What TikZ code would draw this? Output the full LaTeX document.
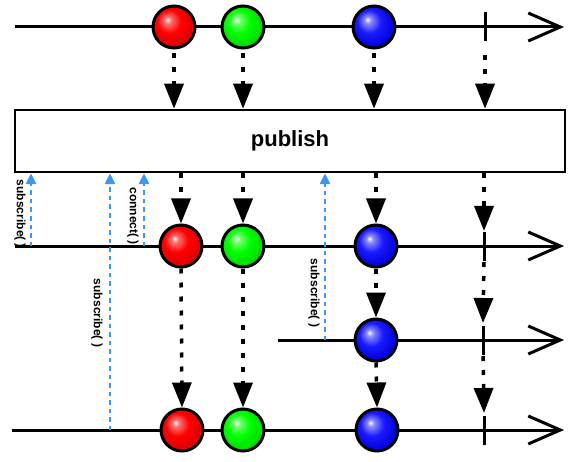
\documentclass[tikz,border=0pt]{standalone}
\usepackage{fontspec}
\setmainfont{Liberation Sans}
\usetikzlibrary{arrows.meta}
\definecolor{subblue}{RGB}{60,150,245}
\pgfdeclareradialshading{mred}{\pgfpoint{-8bp}{9bp}}{color(0bp)=(white); color(4bp)=(red!55!white); color(14bp)=(red); color(28bp)=(red!85!black); color(50bp)=(red!60!black)}
\pgfdeclareradialshading{mgreen}{\pgfpoint{-8bp}{9bp}}{color(0bp)=(white); color(4bp)=(green!55!white); color(14bp)=(green); color(28bp)=(green!85!black); color(50bp)=(green!60!black)}
\pgfdeclareradialshading{mblue}{\pgfpoint{-8bp}{9bp}}{color(0bp)=(white); color(4bp)=(blue!45!white); color(14bp)=(blue!90!white); color(28bp)=(blue!85!black); color(50bp)=(blue!60!black)}
\tikzset{
  tl/.style={line width=3pt, -{Straight Barb[length=32pt,width=28pt,line width=3pt]}},
  marble/.style={circle, draw, line width=3pt, minimum size=42pt, inner sep=0pt},
  dotarrow/.style={line width=3.5pt, dash pattern=on 5pt off 9pt, -{Triangle[length=25pt,width=19pt]}},
  subarrow/.style={draw=subblue, line width=2.8pt, dash pattern=on 4.5pt off 4pt, -{Triangle[length=11pt,width=10pt,fill=subblue]}},
  lab/.style={font=\bfseries\fontsize{12}{14}\selectfont, rotate=-90, inner sep=0pt},
  tickline/.style={line width=3pt},
}
\begin{document}
\begin{tikzpicture}[x=1pt,y=-1pt]
\useasboundingbox (0,0) rectangle (580,462);
% publish box
\node[draw, line width=2.5pt, fill=white, minimum width=550pt, minimum height=62pt, inner sep=0pt,
      font=\bfseries\fontsize{22}{26}\selectfont] (box) at (290,141) {publish};
% timeline starts/ends
\coordinate (a1) at (15,27);  \coordinate (e1) at (564,27);
\coordinate (a2) at (15,246); \coordinate (e2) at (564,246);
\coordinate (a3) at (278,340); \coordinate (e3) at (564,340);
\coordinate (a4) at (12,430); \coordinate (e4) at (564,430);
\draw[tl] (a1) -- (e1);
\draw[tl] (a2) -- (e2);
\draw[tl] (a3) -- (e3);
\draw[tl] (a4) -- (e4);
% ticks
\coordinate (t1) at (485,27);
\coordinate (t2) at (484,246);
\coordinate (t3) at (483,340);
\coordinate (t4) at (484,430);
\foreach \t in {t1,t2,t3,t4}
  \draw[tickline] ([yshift=14.5pt]\t) -- ([yshift=-14.5pt]\t);
% marbles
\node[marble, shading=mred]   (r1) at (174,27) {};
\node[marble, shading=mgreen] (g1) at (243,27) {};
\node[marble, shading=mblue]  (b1) at (374,27) {};
\node[marble, shading=mred]   (r2) at (181,246) {};
\node[marble, shading=mgreen] (g2) at (243,246) {};
\node[marble, shading=mblue]  (b2) at (376,246) {};
\node[marble, shading=mblue]  (b3) at (376,340) {};
\node[marble, shading=mred]   (r4) at (182,430) {};
\node[marble, shading=mgreen] (g4) at (243,430) {};
\node[marble, shading=mblue]  (b4) at (377,430) {};
% dotted arrows row 1 -> box
\foreach \m in {r1,g1,b1}
  \draw[dotarrow, shorten <=4pt] (\m.south) -- (\m |- box.north);
\draw[dotarrow] ([yshift=-28pt]t1) -- (t1 |- box.north);
% box -> row 2
\foreach \m in {r2,g2,b2}
  \draw[dotarrow] (box.south -| \m) -- (\m.north);
\draw[dotarrow] (box.south -| t2) -- ([yshift=15pt]t2);
% row 2 -> row 3
\draw[dotarrow] (b2.south) -- (b3.north);
\draw[dotarrow] ([yshift=-16pt]t2) -- ([yshift=17pt]t3);
% row 2 -> row 4
\draw[dotarrow] (r2.south) -- (r4.north);
\draw[dotarrow] (g2.south) -- (g4.north);
\draw[dotarrow] (b3.south) -- (b4.north);
\draw[dotarrow] ([yshift=-16pt]t3) -- ([yshift=17pt]t4);
% subscribe / connect arrows
\coordinate (s1) at (31,246);
\coordinate (c1) at (144,246);
\coordinate (s2) at (110,430);
\coordinate (s3) at (325,340);
\foreach \s in {s1,c1,s2,s3}
  \draw[subarrow] (\s) -- (\s |- box.south);
% labels
\node[lab] (l1) at (20,214) {subscribe( )};
\node[lab] (l2) at (133,216) {connect( )};
\node[lab] (l3) at (97,313) {subscribe( )};
\node[lab] (l4) at (314,293) {subscribe( )};
\end{tikzpicture}
\end{document}
